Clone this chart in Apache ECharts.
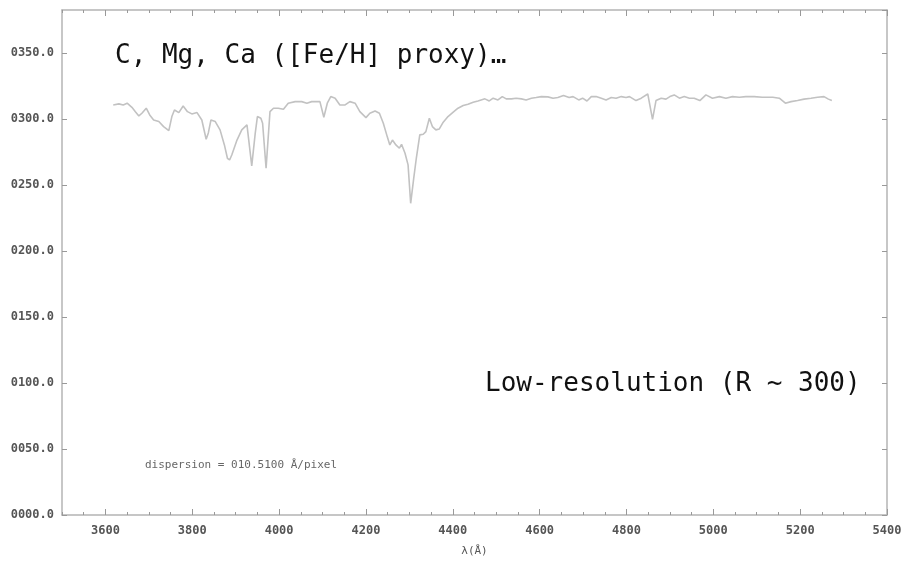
<!DOCTYPE html>
<html>
<head>
<meta charset="utf-8">
<script src="https://cdn.jsdelivr.net/npm/echarts@6/dist/echarts.min.js"></script>
<style>
  html, body { margin: 0; padding: 0; background: #fff; }
  #chart { width: 903px; height: 561px; }
</style>
</head>
<body>
<div id="chart"></div>
<script>
// wavelength (Å) and flux
const wavelengths = [
  3618, 3631, 3641, 3650, 3661, 3669, 3677, 3684, 3694, 3702,
  3711, 3723, 3734, 3746, 3753, 3759, 3769, 3779, 3789, 3799,
  3811, 3822, 3832, 3837, 3843, 3853, 3864, 3874, 3881, 3886,
  3891, 3903, 3914, 3926, 3937, 3945, 3950, 3958, 3962, 3970,
  3979, 3987, 3998, 4010, 4021, 4037, 4052, 4064, 4075, 4094,
  4103, 4111, 4119, 4129, 4140, 4152, 4163, 4175, 4186, 4200,
  4209, 4221, 4231, 4240, 4249, 4255, 4261, 4269, 4277, 4282,
  4290, 4297, 4303, 4310, 4316, 4324, 4332, 4338, 4346, 4353,
  4361, 4369, 4378, 4389, 4401, 4412, 4424, 4435, 4447, 4458,
  4474, 4484, 4493, 4504, 4514, 4523, 4535, 4546, 4558, 4569,
  4581, 4592, 4604, 4619, 4631, 4642, 4655, 4668, 4677, 4690,
  4699, 4709, 4719, 4730, 4742, 4753, 4765, 4776, 4788, 4799,
  4807, 4822, 4834, 4849, 4860, 4868, 4880, 4891, 4900, 4910,
  4922, 4933, 4945, 4956, 4969, 4983, 4998, 5014, 5029, 5044,
  5060, 5075, 5094, 5113, 5137, 5152, 5166, 5179, 5194, 5209,
  5225, 5240, 5255, 5265, 5273
];
const flux = [
  310.6, 311.4, 310.6, 311.9, 308.8, 305.5, 302.3, 304.3, 308.1, 303.0,
  299.2, 298.0, 294.2, 291.1, 301.8, 306.8, 304.8, 309.8, 305.5, 303.8,
  304.8, 299.2, 284.6, 289.4, 299.2, 298.0, 291.7, 280.3, 270.2, 268.9,
  272.7, 284.0, 291.7, 295.5, 264.4, 289.1, 301.8, 300.5, 296.7, 262.6,
  305.5, 308.1, 308.1, 307.3, 311.9, 313.1, 313.1, 311.9, 313.1, 313.1,
  301.3, 311.9, 316.9, 315.7, 310.6, 310.6, 313.1, 311.9, 305.5, 301.0,
  304.3, 306.0, 304.3, 296.7, 286.6, 280.3, 284.0, 280.3, 277.8, 280.8,
  274.0, 265.2, 236.1, 255.0, 270.2, 287.9, 288.4, 290.4, 300.5, 294.2,
  291.7, 292.4, 297.5, 301.8, 305.1, 308.1, 310.1, 311.1, 312.6, 313.6,
  315.2, 313.6, 315.7, 314.4, 316.9, 315.2, 315.2, 315.7, 315.2, 314.4,
  315.7, 316.2, 316.9, 316.7, 315.7, 316.2, 317.7, 316.2, 316.9, 314.4,
  315.7, 313.6, 316.9, 316.9, 315.7, 314.4, 316.2, 315.7, 316.9, 316.2,
  316.9, 313.9, 315.7, 318.9, 299.7, 313.9, 315.7, 315.0, 316.9, 318.2,
  315.7, 316.9, 315.7, 315.7, 313.9, 318.2, 315.7, 316.9, 315.7, 316.9,
  316.4, 316.9, 316.9, 316.4, 316.4, 315.7, 311.9, 313.1, 313.9, 315.0,
  315.7, 316.4, 316.9, 315.0, 313.9
];
const majorTicks = [3600, 3800, 4000, 4200, 4400, 4600, 4800, 5000, 5200, 5400];

const chart = echarts.init(document.getElementById('chart'));

const mono = 'DejaVu Sans Mono, monospace';
const frameColor = '#b4b4b4';
const xMin = 3500, xMax = 5400;
const yMax = 382.5;

// shared pieces for the four sides of the frame
const minorX = (position) => ({
  type: 'value', position, min: xMin, max: xMax, interval: 50,
  axisLine: { show: true, lineStyle: { color: frameColor, width: 1.5 } },
  axisTick: { show: true, inside: true, length: 3, lineStyle: { color: '#999' } },
  axisLabel: { show: false },
  splitLine: { show: false }
});
const majorX = (position) => ({
  type: 'value', position, min: xMin, max: xMax,
  axisLine: { show: false },
  axisTick: { show: true, inside: true, length: 6, customValues: majorTicks, lineStyle: { color: '#999' } },
  axisLabel: { show: false },
  splitLine: { show: false }
});

const option = {
  backgroundColor: '#fff',
  animation: false,
  grid: { left: 62, right: 16, top: 10, bottom: 46, containLabel: false, outerBoundsMode: 'none' },
  xAxis: [
    Object.assign(minorX('bottom'), {
      name: 'λ(Å)',
      nameLocation: 'middle',
      nameGap: 31,
      nameTextStyle: { fontFamily: mono, fontSize: 11, color: '#555' }
    }),
    Object.assign(majorX('bottom'), {
      axisLabel: {
        show: true, customValues: majorTicks, margin: 10,
        fontFamily: mono, fontSize: 12, color: '#555', fontWeight: 'bold',
        formatter: (v) => String(v)
      }
    }),
    minorX('top'),
    majorX('top')
  ],
  yAxis: [
    {
      type: 'value', position: 'left', min: 0, max: yMax, interval: 50,
      axisLine: { show: true, lineStyle: { color: frameColor, width: 1.5 } },
      axisTick: { show: true, inside: true, length: 5, lineStyle: { color: '#999' } },
      axisLabel: {
        margin: 8, fontFamily: mono, fontSize: 12, color: '#555', fontWeight: 'bold',
        formatter: (v) => v.toFixed(1).padStart(6, '0'),
        showMaxLabel: false
      },
      splitLine: { show: false }
    },
    {
      type: 'value', position: 'right', min: 0, max: yMax, interval: 50,
      axisLine: { show: true, lineStyle: { color: frameColor, width: 1.5 } },
      axisTick: { show: true, inside: true, length: 5, lineStyle: { color: '#999' } },
      axisLabel: { show: false },
      splitLine: { show: false }
    }
  ],
  series: [
    {
      type: 'line',
      xAxisIndex: 0,
      yAxisIndex: 0,
      data: wavelengths.map((w, i) => [w, flux[i]]),
      showSymbol: false,
      lineStyle: { color: '#c2c2c2', width: 1.6 }
    }
  ],
  graphic: [
    {
      type: 'text', left: 115, top: 43,
      style: { text: 'C, Mg, Ca ([Fe/H] proxy)…', font: '26px "DejaVu Sans Mono", monospace', fill: '#111' }
    },
    {
      type: 'text', left: 485, top: 371,
      style: { text: 'Low-resolution (R ~ 300)', font: '26px "DejaVu Sans Mono", monospace', fill: '#111' }
    },
    {
      type: 'text', left: 145, top: 460,
      style: { text: 'dispersion = 010.5100 Å/pixel', font: '11px "DejaVu Sans Mono", monospace', fill: '#666' }
    }
  ]
};

chart.setOption(option);
</script>
</body>
</html>
